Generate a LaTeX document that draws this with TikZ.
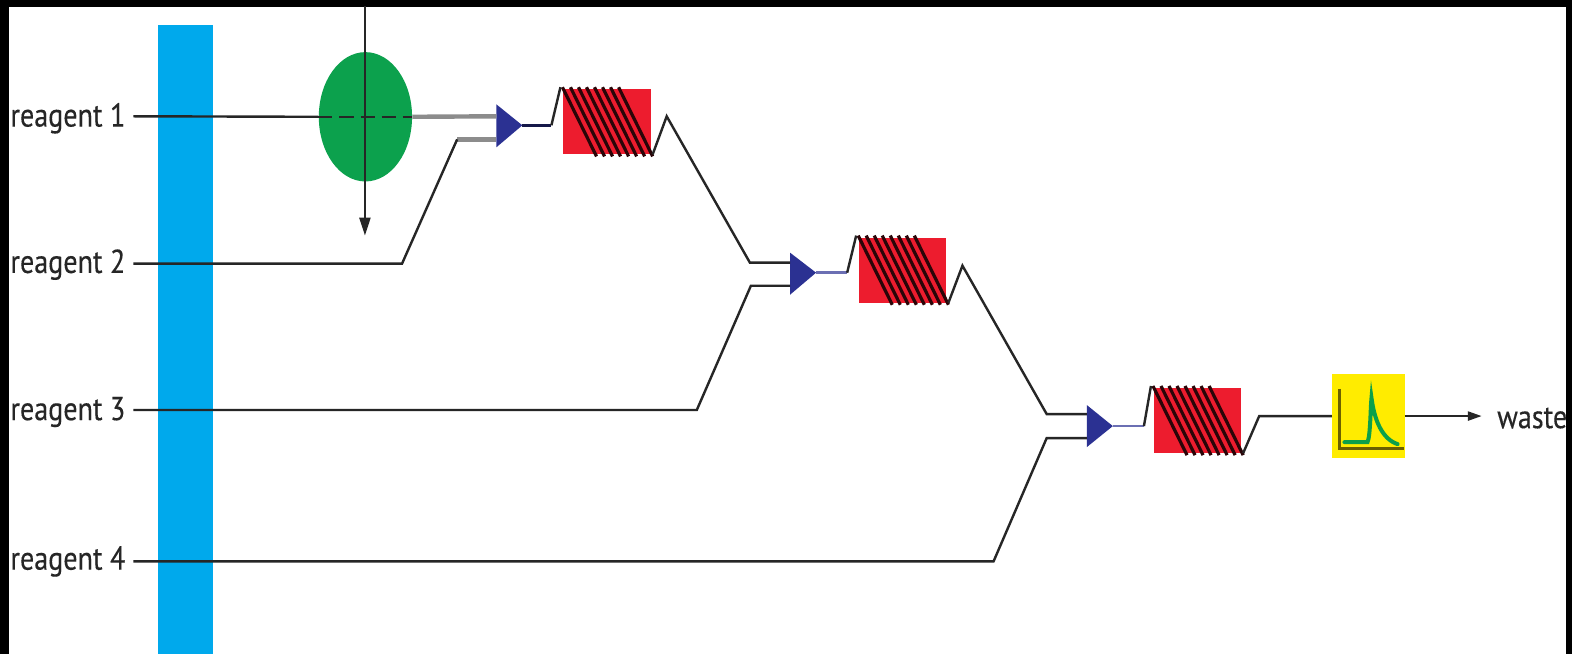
\documentclass[tikz,border=0pt]{standalone}
\usepackage{fontspec}
\setmainfont[FakeStretch=0.85,FakeBold=0.25]{PT Sans}
\usetikzlibrary{arrows.meta,shapes.geometric}
\definecolor{cyanbar}{HTML}{00A9EC}
\definecolor{greendisc}{HTML}{0CA14D}
\definecolor{redbox}{HTML}{ED1C2E}
\definecolor{bluetri}{HTML}{2B3192}
\definecolor{yellowbox}{HTML}{FFEC00}
\definecolor{peak}{HTML}{0CA04A}
\definecolor{axisc}{HTML}{6B6000}
\definecolor{turnc}{HTML}{2A0508}
\tikzset{
  x=0.5pt,y=-0.5pt,
  lbl/.style={font=\fontsize{16.5}{17}\selectfont,inner sep=0pt,text=black!85},
  pipe/.style={draw=black!85,line width=1.2pt,line join=miter},
  wideg/.style={draw=black!45,line width=2.2pt},
  tri/.style={fill=bluetri,draw=none},
  turn/.style={draw=turnc,line width=1.6pt},
}
\newcommand{\coil}[3]{% #1 name, #2 x of box left, #3 y of box top
  \begin{scope}[shift={(#2,#3)}]
    \fill[redbox] (0,0) rectangle (87,65);
    \foreach \d in {0,8,16,24,32,40,48,56} {
      \draw[turn] ({\d-1},-2) -- ({\d+33},67);
    }
    \coordinate (#1in) at (-3,-2);
    \coordinate (#1out) at (89,65);
  \end{scope}
}
\begin{document}
\begin{tikzpicture}
\useasboundingbox (0,0) rectangle (1568,652);
\fill[black] (0,0) rectangle (1568,652);
\fill[white] (8.5,6.7) rectangle (1562,652);
\fill[cyanbar] (158,25) rectangle (212,652);

% labels
\node[lbl,anchor=west] (r1) at (10,118) {reagent 1};
\node[lbl,anchor=west] (r2) at (10,264) {reagent 2};
\node[lbl,anchor=west] (r3) at (10,411) {reagent 3};
\node[lbl,anchor=west] (r4) at (10,560) {reagent 4};
\node[lbl,anchor=west] (waste) at (1493,417) {waste};

% coordinates
\coordinate (a1) at (133,116);
\coordinate (a2) at (133,263);
\coordinate (a3) at (133,409);
\coordinate (a4) at (133,560);

% disc
\node[fill=greendisc,ellipse,draw=none,minimum width=46.5pt,minimum height=64.5pt,inner sep=0pt] (disc) at (364.5,116.5) {};
\coordinate (dtop) at (364,6);
\coordinate (dbot) at (364,235);
\draw[pipe,-{Triangle[length=9pt,width=5.5pt]}] (dtop) -- (dbot);
\draw[pipe] (a1) -- (disc.west);
\draw[pipe,dash pattern=on 7pt off 3.5pt] (disc.west) -- (disc.east);

% triangles
\fill[tri] (495,104) -- (521,125) -- (495,147) -- cycle;
\coordinate (t1) at (521,125);
\fill[tri] (788,252) -- (814,272) -- (788,294) -- cycle;
\coordinate (t2) at (814,272);
\fill[tri] (1084,404) -- (1110,425) -- (1084,446) -- cycle;
\coordinate (t3) at (1110,425);

% first junction
\coordinate (j1) at (495,116);
\coordinate (j2) at (495,139);
\coordinate (j2b) at (456,139);
\draw[wideg] (disc.east) -- (j1);
\draw[wideg] (j2b) -- (j2);
\draw[pipe] (a2) -- (401,263) -- (j2b);

% coils
\coil{ca}{562}{89}
\coil{cb}{857}{237}
\coil{cc}{1151}{387}

% links
\draw[pipe,draw=bluetri!50!black] (t1) -- (550,125);
\draw[pipe] (550,125) -- (cain);
\draw[pipe] (caout) -- (665,116) -- (748,262) -- (788,262);
\draw[pipe] (a3) -- (695,409) -- (749,285) -- (788,285);
\draw[pipe,draw=bluetri!70] (t2) -- (845,272);
\draw[pipe] (845,272) -- (cbin);
\draw[pipe] (cbout) -- (960,265) -- (1044,413) -- (1084,413);
\draw[pipe] (a4) -- (991,560) -- (1044,437) -- (1084,437);
\draw[pipe,draw=bluetri!70] (t3) -- (1141,425);
\draw[pipe] (1141,425) -- (ccin);
\draw[pipe] (ccout) -- (1256,415) -- (1330,415);

% detector
\node[fill=yellowbox,draw=none,minimum width=36pt,minimum height=42pt,inner sep=0pt] (det) at (1365,415) {};
\draw[axisc,line width=1.6pt] (1336,388) -- (1336,447) -- (1400,447);
\draw[peak,line width=2pt,line cap=round] (1341,441) -- (1364,441) .. controls (1367,435) and (1367,405) .. (1368,397) .. controls (1371,420) and (1379,438) .. (1394,443);
\coordinate (wastetip) at (1478,415);
\draw[pipe,-{Triangle[length=7pt,width=4.5pt]}] (det.east) -- (wastetip);
\fill[black] (1562,0) rectangle (1568,652);
\end{tikzpicture}
\end{document}
